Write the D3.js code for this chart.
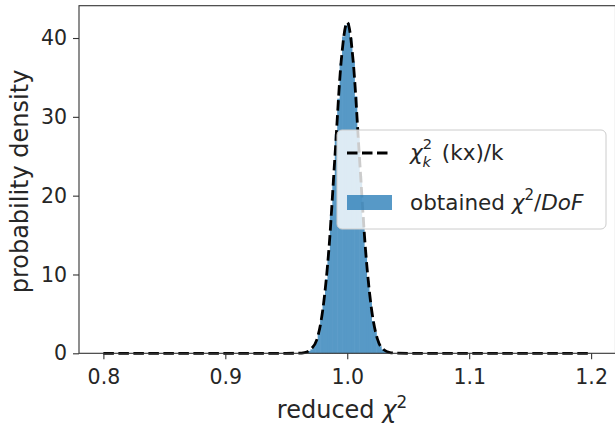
<!DOCTYPE html>
<html>
<head>
<meta charset="utf-8">
<script src="https://cdn.jsdelivr.net/npm/d3@7"></script>
<style>
  html, body { margin: 0; padding: 0; background: #fff; }
  svg { display: block; font-family: "DejaVu Sans", sans-serif; }
</style>
</head>
<body>
<svg id="chart" width="615" height="428"></svg>
<script>
// ---- data ----
const xTicks = [0.8, 0.9, 1.0, 1.1, 1.2];
const yTicks = [0, 10, 20, 30, 40];

// dashed theoretical curve (reduced chi-square pdf)
const curveX = [0.80, 0.85, 0.90, 0.95, 0.96, 0.965, 0.97, 0.975, 0.98, 0.985, 0.99, 0.995, 1.0,
                1.005, 1.01, 1.015, 1.02, 1.025, 1.03, 1.035, 1.04, 1.05, 1.10, 1.15, 1.20];
const curveY = [0, 0, 0, 0, 0.02, 0.1, 0.5, 1.7, 5.6, 13.3, 25.2, 37.0, 42.0,
                36.8, 24.9, 13.1, 5.5, 1.7, 0.45, 0.1, 0.02, 0, 0, 0, 0];

// histogram of obtained chi2/DoF (bin edges and densities)
const binEdges = [0.960, 0.962, 0.964, 0.966, 0.968, 0.970, 0.972, 0.974, 0.976, 0.978,
                  0.980, 0.982, 0.984, 0.986, 0.988, 0.990, 0.992, 0.994, 0.996, 0.998,
                  1.000, 1.002, 1.004, 1.006, 1.008, 1.010, 1.012, 1.014, 1.016, 1.018,
                  1.020, 1.022, 1.024, 1.026, 1.028, 1.030, 1.032, 1.034, 1.036, 1.038, 1.040];
const histDensity = [0.01, 0.03, 0.07, 0.15, 0.3, 0.5, 0.9, 1.6, 2.6, 4.3,
                     6.3, 9.4, 12.9, 17.5, 22.3, 27.8, 32.3, 36.8, 40.2, 41.6,
                     41.9, 40.0, 37.0, 32.6, 27.4, 22.5, 17.3, 13.1, 9.2, 6.5,
                     4.1, 2.7, 1.6, 0.9, 0.5, 0.3, 0.15, 0.07, 0.03, 0.01];

// ---- layout ----
const svg = d3.select("#chart");
const L = 79, R = 615.5, T = 5.7, B = 353.3;
const x = d3.scaleLinear().domain([0.78, 1.22]).range([L, R]);
const y = d3.scaleLinear().domain([0, 44.1]).range([B, T]);
const blue = "#1f77b4";
const textCol = "#262626";

// histogram bars (group opacity so seams don't show)
const bins = histDensity.map((v, i) => ({x0: binEdges[i], x1: binEdges[i + 1], v}));
svg.append("g").attr("opacity", 0.75)
  .selectAll("rect").data(bins).join("rect")
  .attr("x", d => x(d.x0) - 0.3)
  .attr("width", d => x(d.x1) - x(d.x0) + 0.6)
  .attr("y", d => y(d.v))
  .attr("height", d => B - y(d.v))
  .attr("fill", blue);

// dashed curve
const line = d3.line().x(d => x(d[0])).y(d => y(d[1])).curve(d3.curveMonotoneX);
svg.append("path")
  .datum(curveX.map((v, i) => [v, curveY[i]]))
  .attr("d", line)
  .attr("fill", "none")
  .attr("stroke", "#000")
  .attr("stroke-width", 2.8)
  .attr("stroke-dasharray", "10.5,4.5");

// axes
const fsTick = 20.5;
const xAxis = svg.append("g").attr("transform", `translate(0,${B})`)
  .call(d3.axisBottom(x).tickValues(xTicks).tickFormat(d3.format(".1f")).tickSize(6).tickSizeOuter(0));
xAxis.selectAll("text").attr("y", 30.5).attr("dy", null)
  .attr("font-size", fsTick).attr("font-family", "DejaVu Sans").attr("fill", textCol);

const yAxis = svg.append("g").attr("transform", `translate(${L},0)`)
  .call(d3.axisLeft(y).tickValues(yTicks).tickFormat(d3.format("d")).tickSize(6).tickPadding(6).tickSizeOuter(0));
yAxis.selectAll("text").attr("font-size", fsTick).attr("font-family", "DejaVu Sans").attr("fill", textCol);

svg.selectAll(".domain").remove();
svg.selectAll(".tick line").attr("stroke", "#333").attr("stroke-width", 1.1);

// frame
svg.append("rect").attr("x", L).attr("y", T).attr("width", R - L).attr("height", B - T)
  .attr("fill", "none").attr("stroke", "#333").attr("stroke-width", 1.1);

// axis labels
const fsLab = 24;
const xl = svg.append("text").attr("x", 342).attr("y", 418)
  .attr("text-anchor", "middle").attr("font-size", fsLab).attr("fill", textCol);
xl.append("tspan").text("reduced ");
xl.append("tspan").attr("font-style", "italic").text("χ");
xl.append("tspan").attr("font-size", fsLab * 0.7).attr("dy", -10).text("2");

svg.append("text")
  .attr("transform", `translate(28,${(T + B) / 2 + 2}) rotate(-90)`)
  .attr("text-anchor", "middle").attr("font-size", fsLab).attr("fill", textCol)
  .text("probability density");

// legend
const lg = svg.append("g");
lg.append("rect").attr("x", 337).attr("y", 130).attr("width", 269).attr("height", 99)
  .attr("rx", 5).attr("fill", "#fff").attr("fill-opacity", 0.8)
  .attr("stroke", "#ccc").attr("stroke-width", 1);
lg.append("line").attr("x1", 347).attr("x2", 392).attr("y1", 153).attr("y2", 153)
  .attr("stroke", "#000").attr("stroke-width", 2.8).attr("stroke-dasharray", "10.5,4.5");
lg.append("rect").attr("x", 347).attr("y", 195).attr("width", 45).attr("height", 15)
  .attr("fill", blue).attr("fill-opacity", 0.75);

const fsLeg = 21.5;
const t1 = lg.append("text").attr("x", 410).attr("y", 160).attr("font-size", fsLeg).attr("fill", textCol);
t1.append("tspan").attr("font-style", "italic").text("χ");
t1.append("tspan").attr("font-size", fsLeg * 0.68).attr("dy", -11).text("2");
t1.append("tspan").attr("font-size", fsLeg * 0.68).attr("font-style", "italic").attr("dx", -9.5).attr("dy", 17.5).text("k");
t1.append("tspan").attr("dy", -6.5).attr("dx", 4).text(" (kx)/k");

const t2 = lg.append("text").attr("x", 410).attr("y", 210).attr("font-size", fsLeg).attr("fill", textCol);
t2.append("tspan").text("obtained ");
t2.append("tspan").attr("font-style", "italic").text("χ");
t2.append("tspan").attr("font-size", fsLeg * 0.7).attr("dy", -10).text("2");
t2.append("tspan").attr("dy", 10).text("/");
t2.append("tspan").attr("font-style", "italic").text("DoF");
</script>
</body>
</html>
